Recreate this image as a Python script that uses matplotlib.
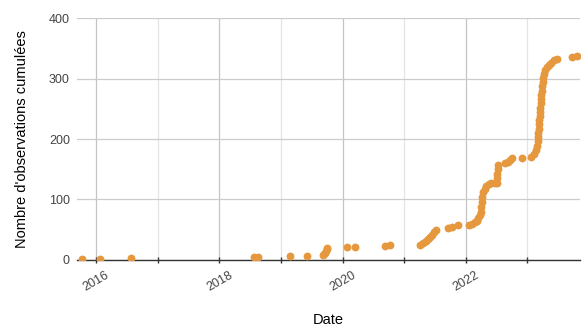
import matplotlib
matplotlib.use('agg')
import matplotlib.pyplot as plt
import matplotlib.dates as mdates
import pandas as pd

dates = [
  '2015-10-12', '2016-01-22', '2016-07-27',
  '2018-07-28', '2018-08-15',
  '2019-02-24', '2019-06-06',
  '2019-09-08', '2019-09-14', '2019-09-20', '2019-09-25', '2019-09-29', '2019-10-03',
  '2020-01-25', '2020-03-12', '2020-09-08', '2020-10-08',
  '2021-04-05', '2021-04-20', '2021-05-08', '2021-05-22', '2021-06-04',
  '2021-06-14', '2021-06-24', '2021-07-10',
  '2021-09-15', '2021-10-12', '2021-11-15',
  '2022-01-22', '2022-02-08', '2022-02-22', '2022-03-06', '2022-03-16',
  '2022-03-24', '2022-03-30', '2022-04-03', '2022-04-06', '2022-04-09',
  '2022-04-12', '2022-04-22', '2022-05-02', '2022-05-16', '2022-06-01',
  '2022-06-20', '2022-07-02', '2022-07-04', '2022-07-06', '2022-07-08',
  '2022-07-10', '2022-08-22', '2022-09-05', '2022-09-18', '2022-10-02',
  '2022-12-01', '2023-01-22', '2023-02-10', '2023-02-22',
  '2023-03-01', '2023-03-03', '2023-03-05', '2023-03-07', '2023-03-09',
  '2023-03-11', '2023-03-13', '2023-03-15', '2023-03-17', '2023-03-19',
  '2023-03-21', '2023-03-23', '2023-03-25', '2023-03-27', '2023-03-30',
  '2023-04-02', '2023-04-06', '2023-04-10', '2023-04-16', '2023-04-24',
  '2023-05-08', '2023-05-22', '2023-06-10', '2023-06-28',
  '2023-09-24', '2023-10-22',
]
counts = [
  1, 2, 3,
  4, 5,
  6, 7,
  8, 10, 12, 15, 18, 20,
  21, 22, 23, 24,
  25, 28, 32, 35, 38,
  42, 46, 50,
  53, 55, 58,
  58, 60, 62, 65, 70,
  75, 80, 88, 96, 104,
  112, 118, 122, 125, 127,
  127, 128, 135, 142, 150,
  157, 160, 162, 166, 168,
  169, 170, 175, 182,
  189, 196, 203, 210, 217,
  224, 231, 238, 245, 252,
  259, 266, 273, 280, 287,
  294, 301, 308, 314, 319,
  323, 326, 330, 332,
  335, 337,
]

x = pd.to_datetime(dates)

plt.rcParams['font.family'] = ['Liberation Sans', 'DejaVu Sans']

fig = plt.figure(figsize=(5.82, 3.29), dpi=100)
ax = fig.add_axes([0.132, 0.21, 0.865, 0.735])

ax.scatter(x, counts, s=32, color='#e6983f', zorder=3, linewidths=0)

ax.set_ylim(0, 400)
ax.set_yticks([0, 100, 200, 300, 400])
ax.set_xlim(pd.Timestamp('2015-09-09'), pd.Timestamp('2023-11-10'))

ax.xaxis.set_major_locator(mdates.YearLocator(2))
ax.xaxis.set_minor_locator(mdates.YearLocator(1))
ax.xaxis.set_major_formatter(mdates.DateFormatter('%Y'))

ax.grid(axis='y', color='#cccccc', linewidth=0.9)
ax.grid(axis='x', which='major', color='#c4c4c4', linewidth=0.9)
ax.grid(axis='x', which='minor', color='#e4e4e4', linewidth=0.9)
ax.set_axisbelow(True)

for s in ['top', 'right', 'left']:
  ax.spines[s].set_visible(False)
ax.spines['bottom'].set_color('#333333')
ax.spines['bottom'].set_linewidth(1.0)

ax.tick_params(axis='y', length=0, pad=5, labelsize=9, labelcolor='#444444')
ax.tick_params(axis='x', which='both', direction='inout', length=5, width=1.0,
               color='#333333', labelsize=9, labelcolor='#444444', pad=4)
for lbl in ax.get_xticklabels():
  lbl.set_rotation(30)
  lbl.set_ha('center')

ax.set_xlabel('Date', fontsize=10.5, labelpad=14)
ax.set_ylabel("Nombre d'observations cumulées", fontsize=10.5, labelpad=14)

plt.savefig('out.png', dpi=100)
